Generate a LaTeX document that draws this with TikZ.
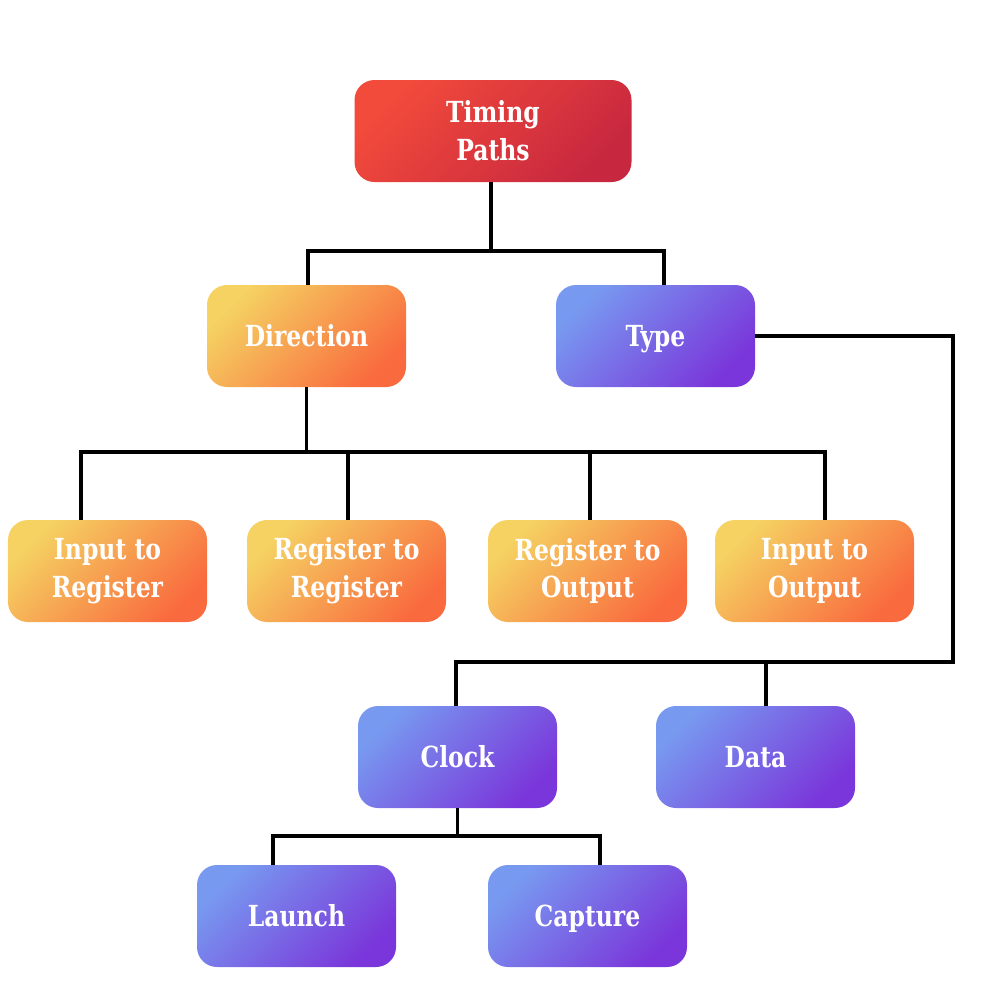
\documentclass[tikz,border=0pt]{standalone}
\usepackage{fontspec}
\setmainfont{DejaVu Serif Condensed}[FakeStretch=0.9]
\definecolor{ylw}{HTML}{F5D262}
\definecolor{org}{HTML}{F96B3E}
\definecolor{redl}{HTML}{F24A3B}
\definecolor{redd}{HTML}{C8283F}
\definecolor{bluel}{HTML}{7899F0}
\definecolor{blued}{HTML}{7A36DA}
\tikzset{
  box/.style={rounded corners=4mm, minimum width=39.8mm, minimum height=20.4mm,
    text=white, font=\fontsize{16.5}{21.6}\selectfont\bfseries, align=center, inner sep=0pt},
  one/.style={text height=12pt, text depth=0pt},
  orangebox/.style={box, top color=ylw, bottom color=org, shading angle=45},
  bluebox/.style={box, top color=bluel, bottom color=blued, shading angle=45},
  redbox/.style={box, top color=redl, bottom color=redd, shading angle=45, minimum width=55.4mm},
  conn/.style={line width=0.7mm, black}
}
\begin{document}
\begin{tikzpicture}[x=0.2mm, y=-0.2mm]
\useasboundingbox (0,0) rectangle (1000,1000);
\node[redbox] (tp) at (493,131) {Timing\\Paths};
\node[orangebox, one] (dir) at (306.5,336) {Direction};
\node[bluebox, one] (type) at (655.5,336) {Type};
\node[orangebox] (ir) at (107.5,571) {Input to\\Register};
\node[orangebox] (rr) at (346.5,571) {Register to\\Register};
\node[orangebox] (ro) at (587.5,571) {Register to\\Output};
\node[orangebox] (io) at (814.5,571) {Input to\\Output};
\node[bluebox, one] (clk) at (457.5,757) {Clock};
\node[bluebox, one] (data) at (755.5,757) {Data};
\node[bluebox, one] (la) at (296.5,916) {Launch};
\node[bluebox, one] (ca) at (587.5,916) {Capture};
\coordinate (b1) at (491,251);
\coordinate (b2) at (306.5,452);
\coordinate (t1) at (953,662);
\coordinate (b3) at (457.5,836);
\draw[conn] ([xshift=-0.4mm]tp.south) -- (b1);
\draw[conn] ([xshift=0.3mm]dir.north) |- (b1) -| ([xshift=1.7mm]type.north);
\draw[conn] (dir.south) -- (b2);
\draw[conn] ([xshift=-5.3mm]ir.north) |- (b2) -| ([xshift=2.1mm]io.north);
\draw[conn] ([xshift=0.3mm]rr.north) -- ([xshift=0.3mm]rr.north |- b2);
\draw[conn] ([xshift=0.5mm]ro.north) -- ([xshift=0.5mm]ro.north |- b2);
\draw[conn] (type.east) -| (t1) -| ([xshift=-0.3mm]clk.north);
\draw[conn] ([xshift=2.1mm]data.north) -- ([xshift=2.1mm]data.north |- t1);
\draw[conn] (clk.south) -- (b3);
\draw[conn] ([xshift=-4.7mm]la.north) |- (b3) -| ([xshift=2.5mm]ca.north);
\end{tikzpicture}
\end{document}
